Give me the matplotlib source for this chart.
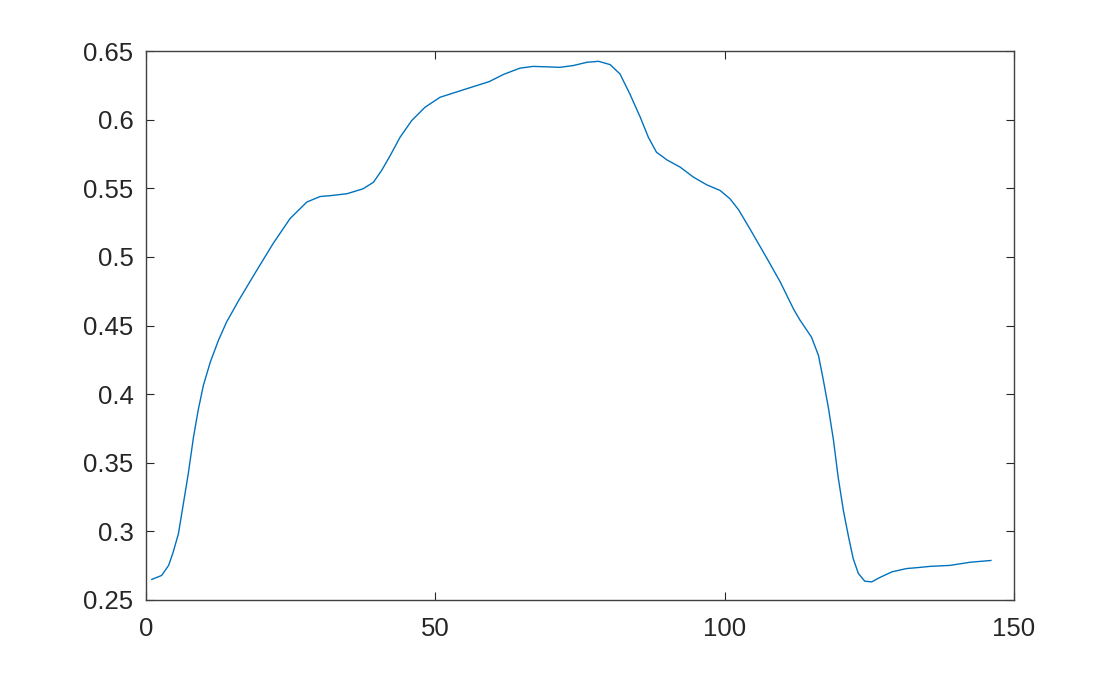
import numpy as np
import matplotlib
matplotlib.use('Agg')
import matplotlib.pyplot as plt

# points
x = [1.0, 2.7, 3.9, 4.7, 5.6, 6.45, 7.3, 8.2, 9.0, 9.9, 11.1, 12.5, 13.9, 16.0,
     19.1, 22.0, 24.9, 27.8, 30.1, 31.8, 34.7, 37.5, 39.3, 40.7, 42.2, 43.9,
     45.9, 48.2, 50.8, 54.8, 59.3, 61.8, 64.6, 66.9, 69.8, 71.5, 73.8, 76.2,
     78.2, 80.2, 81.9, 83.6, 85.4, 86.8, 88.2, 90.0, 92.3, 94.6, 96.9, 99.2,
     100.9, 102.4, 104.4, 107.3, 109.6, 111.9, 113.0, 115.0, 116.2, 117.0,
     117.9, 118.8, 119.6, 120.5, 121.4, 122.2, 123.1, 124.2, 125.4, 126.8,
     128.9, 131.4, 133.6, 135.5, 138.9, 142.4, 146.0]
y = [0.2650, 0.2679, 0.2752, 0.2850, 0.2984, 0.3202, 0.3421, 0.3687, 0.3881,
     0.4063, 0.4233, 0.4391, 0.4524, 0.4682, 0.4900, 0.5100, 0.5280, 0.5400,
     0.5440, 0.5446, 0.5460, 0.5496, 0.5544, 0.5629, 0.5739, 0.5872, 0.5993,
     0.6090, 0.6163, 0.6217, 0.6277, 0.6330, 0.6375, 0.6388, 0.6384, 0.6381,
     0.6394, 0.6418, 0.6425, 0.6401, 0.6333, 0.6188, 0.6018, 0.5872, 0.5763,
     0.5707, 0.5654, 0.5581, 0.5525, 0.5484, 0.5424, 0.5343, 0.5201, 0.4989,
     0.4817, 0.4619, 0.4540, 0.4415, 0.4282, 0.4112, 0.3905, 0.3663, 0.3396,
     0.3154, 0.2960, 0.2802, 0.2693, 0.2637, 0.2632, 0.2664, 0.2705, 0.2729,
     0.2737, 0.2745, 0.2752, 0.2775, 0.2788]

xticks = [0, 50, 100, 150]
yticks = [0.25, 0.3, 0.35, 0.4, 0.45, 0.5, 0.55, 0.6, 0.65]
ytick_labels = ['0.25', '0.3', '0.35', '0.4', '0.45', '0.5', '0.55', '0.6', '0.65']

plt.rcParams['font.family'] = ['Liberation Sans', 'DejaVu Sans']

fig = plt.figure(figsize=(11.2, 6.74), dpi=100)
ax = fig.add_axes([0.1304, 0.1098, 0.775, 0.8145])
ax.plot(x, y, color='#0072BD', linewidth=1.0)

ax.set_xlim(0, 150)
ax.set_ylim(0.25, 0.65)
ax.set_xticks(xticks)
ax.set_yticks(yticks)
ax.set_yticklabels(ytick_labels)

axcol = '#262626'
for s in ax.spines.values():
    s.set_color('#404040')
    s.set_linewidth(1.0)
ax.tick_params(direction='in', length=6, width=0.8, color=axcol,
               labelcolor=axcol, labelsize=18.5, top=True, right=True)
ax.tick_params(axis='x', pad=12)
ax.tick_params(axis='y', pad=9)

fig.savefig('out.png', dpi=100)
